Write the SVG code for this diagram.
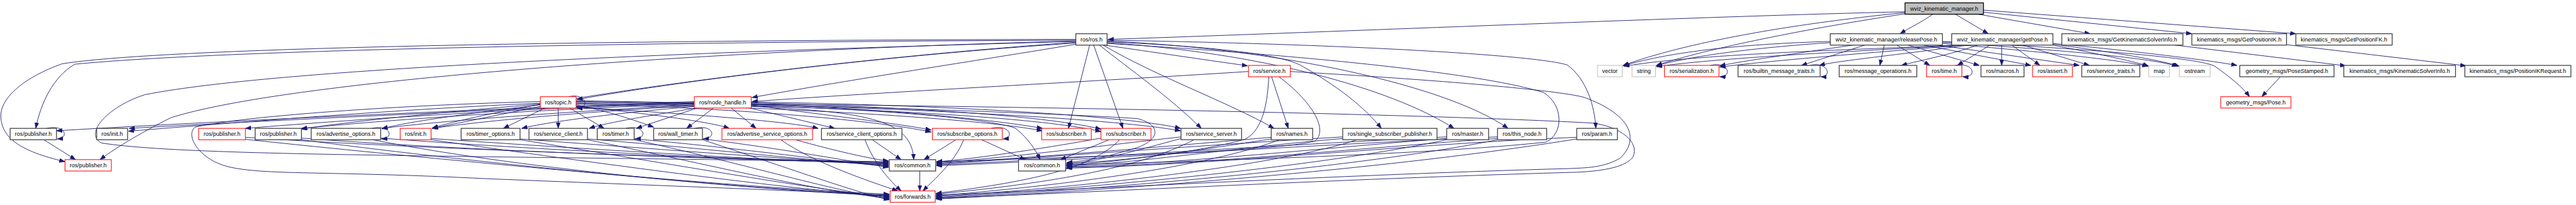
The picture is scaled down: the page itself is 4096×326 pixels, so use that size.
<svg xmlns="http://www.w3.org/2000/svg" width="4096" height="326" viewBox="0 0 4096 326">
<defs>
<style>
.n rect{fill:#fff;stroke:#404040;stroke-width:2}
.r rect{stroke:#ff0000;stroke-width:1.6}
.g rect{stroke:#bfbfbf;stroke-width:1.6}
.root rect{fill:#bfbfbf;stroke:#000}
.n text{font-family:"Liberation Sans",Arial,Helvetica,sans-serif;font-size:14px;text-anchor:middle;fill:#000}
#edges path{fill:none;stroke:#191970;stroke-width:1.4;marker-end:url(#a)}
</style>
<marker id="a" markerUnits="userSpaceOnUse" markerWidth="16" markerHeight="12" refX="14" refY="5" orient="auto"><path d="M0,0L14,5L0,10z" fill="#191970" stroke="#191970" stroke-width="1"/></marker>
</defs>
<rect width="4096" height="326" fill="#fff"/>
<g transform="scale(0.646)">
<g id="edges">
<path d="M4689,29 C4200,40 3300,78 2727,97"/>
<path d="M4689,31 C4400,60 4150,105 3995,161"/>
<path d="M4689,34 C4450,70 4200,120 4077,161"/>
<path d="M4757,35 C4730,55 4700,68 4677,83"/>
<path d="M4813,35 L4894,83"/>
<path d="M4869,35 L5145,83"/>
<path d="M4882,30 L5395,83"/>
<path d="M4882,25 L5651,83"/>
<path d="M2718,111 C2850,130 2950,145 3071,162"/>
<path d="M2682,111 L2630,316"/>
<path d="M2692,111 L2764,316"/>
<path d="M2706,111 C2780,170 2880,240 2957,316"/>
<path d="M2715,111 C2850,190 3020,250 3136,316"/>
<path d="M2725,103 C3000,115 3150,135 3200,160 C3290,210 3360,265 3400,316"/>
<path d="M2725,105 C3100,130 3420,215 3579,316"/>
<path d="M2725,101 C3150,120 3560,210 3712,316"/>
<path d="M2725,99 C3300,108 3780,135 3858,160 C3905,195 3925,260 3928,316"/>
<path d="M2725,107 C3200,135 3650,180 3800,228 C3850,260 3848,330 3805,350 C3500,382 2900,398 2625,406"/>
<path d="M2648,109 C2400,150 2100,195 1851,240"/>
<path d="M2648,106 C2200,135 1700,195 1420,245"/>
<path d="M2648,104 C2000,150 1300,245 1064,315"/>
<path d="M2648,99 C1800,102 600,118 184,158 C130,190 100,255 88,316"/>
<path d="M2648,97 C1800,98 450,110 153,157 C60,190 2,240 2,285 C3,340 50,372 160,398"/>
<path d="M2648,102 C1800,125 700,165 357,233 C265,262 205,330 250,352 C400,376 800,380 1200,386 C1700,392 2000,396 2187,400"/>
<path d="M2648,101 C1700,125 700,200 420,290 C360,320 290,360 246,393"/>
<path d="M3130,189 L3171,316"/>
<path d="M3073,176 C2700,200 2200,225 1851,250"/>
<path d="M3123,189 C3120,250 3110,320 3064,343 C2950,375 2750,398 2625,402"/>
<path d="M3148,189 C3230,250 3270,320 3237,347 C3150,372 2700,385 2305,398"/>
<path d="M3176,176 C3600,200 3850,225 3900,240 C4010,280 4040,340 3987,390 C3950,410 3920,413 3860,415 C3300,430 2600,470 2304,480"/>
<path d="M1849,256 C2500,262 3500,280 3920,303 C3990,312 4035,350 4020,385 C4005,410 3950,421 3880,424 C3300,440 2600,478 2304,488"/>
<path d="M1400,238 C1445,228 1452,268 1420,266"/>
<path d="M1341,266 L1239,316"/>
<path d="M1374,266 L1374,316"/>
<path d="M1402,266 L1487,316"/>
<path d="M1418,258 C1500,275 1560,295 1609,313"/>
<path d="M1330,262 L1064,316"/>
<path d="M1330,258 C1150,280 1000,300 940,317"/>
<path d="M1330,254 C1000,268 600,300 316,323"/>
<path d="M1330,256 C1100,275 850,300 742,318"/>
<path d="M1418,262 C1600,280 1750,300 1795,316"/>
<path d="M1418,264 C1700,280 1950,300 2014,316"/>
<path d="M1418,256 C1800,265 2150,295 2292,325"/>
<path d="M1418,254 C1900,262 2400,290 2566,322"/>
<path d="M1418,252 C2000,258 2550,285 2710,324"/>
<path d="M1418,250 C2000,255 2700,285 2906,322"/>
<path d="M1418,248 C1900,255 2600,278 2800,292 C2852,305 2862,340 2800,363 C2730,385 2680,396 2626,400"/>
<path d="M1330,250 C1000,258 600,285 480,313 C455,333 490,392 560,410 C650,432 800,420 1200,440 C1700,460 2000,470 2189,482"/>
<path d="M1709,250 C1200,268 500,300 139,322"/>
<path d="M1709,252 C1200,270 600,300 318,316"/>
<path d="M1709,254 C1300,266 900,292 604,316"/>
<path d="M1709,256 C1300,270 950,296 742,316"/>
<path d="M1709,258 C1400,275 1100,296 940,316"/>
<path d="M1709,260 C1450,275 1200,296 1064,316"/>
<path d="M1709,262 C1500,280 1350,300 1284,316"/>
<path d="M1712,266 C1600,285 1500,300 1450,316"/>
<path d="M1716,266 L1566,316"/>
<path d="M1756,266 L1690,316"/>
<path d="M1800,266 L1861,316"/>
<path d="M1846,266 L2055,316"/>
<path d="M1849,258 C2000,280 2200,302 2292,320"/>
<path d="M1849,255 C2200,270 2450,295 2566,316"/>
<path d="M1849,253 C2300,265 2600,290 2710,318"/>
<path d="M1849,251 C2400,260 2800,290 2906,316"/>
<path d="M1849,262 C2150,275 2245,300 2249,393"/>
<path d="M1849,260 C2200,270 2450,295 2500,316 C2530,340 2550,370 2560,393"/>
<path d="M115,316 C160,305 172,340 141,342"/>
<path d="M108,344 L186,393"/>
<path d="M604,338 C1000,365 1800,393 2187,398"/>
<path d="M604,343 C1000,385 1800,462 2189,478"/>
<path d="M742,340 C1100,368 1800,395 2187,400"/>
<path d="M742,344 C1100,392 1800,466 2189,480"/>
<path d="M915,316 C960,305 972,340 939,342"/>
<path d="M937,340 C1300,368 1900,397 2187,402"/>
<path d="M917,344 C1300,420 1900,470 2189,482"/>
<path d="M1061,341 C1400,364 1900,396 2187,404"/>
<path d="M1061,344 C1400,392 1900,462 2189,484"/>
<path d="M1280,342 C1600,366 2000,396 2187,406"/>
<path d="M1280,344 C1600,395 2000,466 2189,486"/>
<path d="M1446,342 C1700,362 2000,396 2187,408"/>
<path d="M1446,344 C1700,395 2000,470 2189,488"/>
<path d="M1540,316 C1585,305 1597,340 1563,342"/>
<path d="M1561,342 C1800,362 2050,397 2187,410"/>
<path d="M1561,344 C1800,395 2050,470 2189,490"/>
<path d="M1710,316 C1755,305 1767,340 1731,342"/>
<path d="M1729,342 C1900,362 2100,398 2187,412"/>
<path d="M1729,344 C1900,400 2100,472 2189,492"/>
<path d="M1958,344 C2050,370 2150,393 2187,396"/>
<path d="M1922,344 C2000,400 2150,450 2210,470"/>
<path d="M2147,344 L2218,393"/>
<path d="M2129,344 C2150,400 2190,445 2218,470"/>
<path d="M2440,316 C2487,305 2497,340 2469,342"/>
<path d="M2353,344 L2274,393"/>
<path d="M2372,344 C2350,400 2300,440 2272,470"/>
<path d="M2416,344 L2524,393"/>
<path d="M2710,340 C2600,360 2400,392 2305,398"/>
<path d="M2730,344 L2610,393"/>
<path d="M2756,344 C2700,400 2600,440 2304,476"/>
<path d="M2907,337 C2700,360 2450,392 2305,400"/>
<path d="M2907,341 C2800,370 2700,398 2625,404"/>
<path d="M2939,344 C2850,390 2700,440 2304,478"/>
<path d="M3129,338 C2900,358 2500,392 2305,402"/>
<path d="M3129,342 C2950,370 2750,400 2625,406"/>
<path d="M3150,344 C3000,400 2700,450 2304,482"/>
<path d="M3305,337 C3000,355 2500,392 2305,404"/>
<path d="M3305,341 C3050,362 2800,402 2625,408"/>
<path d="M3340,344 C3200,392 2800,452 2304,484"/>
<path d="M3561,337 C3200,354 2600,393 2305,406"/>
<path d="M3561,341 C3300,360 2900,404 2625,410"/>
<path d="M3561,344 C3300,400 2800,456 2304,486"/>
<path d="M3686,337 C3300,352 2700,393 2305,408"/>
<path d="M3686,341 C3400,360 2950,406 2625,412"/>
<path d="M3686,344 C3400,402 2850,458 2304,488"/>
<path d="M3881,338 C3500,352 3000,406 2625,414"/>
<path d="M3881,342 C3500,404 2900,460 2304,490"/>
<path d="M2264,421 L2264,470"/>
<path d="M4505,102 C4300,108 4120,125 3995,162"/>
<path d="M4505,105 C4350,115 4170,135 4077,162"/>
<path d="M4560,111 C4420,132 4290,150 4233,162"/>
<path d="M4590,111 L4434,161"/>
<path d="M4638,111 L4627,161"/>
<path d="M4669,111 L4750,161"/>
<path d="M4696,111 L4872,161"/>
<path d="M4734,111 L4999,161"/>
<path d="M4770,111 L5118,161"/>
<path d="M4781,107 C5000,125 5200,145 5287,163"/>
<path d="M4781,104 C5050,122 5280,140 5360,163"/>
<path d="M4781,102 C5100,118 5400,140 5450,162 C5490,190 5520,215 5537,238"/>
<path d="M4815,111 C4600,122 4200,130 3997,163"/>
<path d="M4825,111 C4600,125 4250,140 4077,164"/>
<path d="M4835,111 C4600,130 4350,150 4233,165"/>
<path d="M4845,111 C4650,138 4520,150 4478,161"/>
<path d="M4868,111 C4800,135 4720,150 4680,161"/>
<path d="M4898,111 L4818,161"/>
<path d="M4927,111 L4927,161"/>
<path d="M4952,111 L5021,161"/>
<path d="M4979,111 L5143,161"/>
<path d="M5053,111 C5150,130 5250,150 5289,163"/>
<path d="M5053,109 C5180,125 5320,148 5364,163"/>
<path d="M5053,107 C5250,125 5450,150 5506,161"/>
<path d="M5353,111 L5774,162"/>
<path d="M5628,110 L6070,162"/>
<path d="M5613,189 L5567,238"/>
<path d="M4210,161 C4255,150 4265,190 4233,189"/>
<path d="M4455,161 C4500,150 4510,190 4482,189"/>
<path d="M4812,161 C4860,152 4868,192 4831,189"/>
</g>
<g id="n_root" class="n root"><rect x="4689" y="7" width="193" height="28"/><text x="4785.5" y="26">wviz_kinematic_manager.h</text></g>
<g id="n_ros" class="n"><rect x="2648" y="83" width="77" height="28"/><text x="2686.5" y="102">ros/ros.h</text></g>
<g id="n_release" class="n"><rect x="4505" y="83" width="276" height="28"/><text x="4643" y="102">wviz_kinematic_manager/releasePose.h</text></g>
<g id="n_getpose" class="n"><rect x="4804" y="83" width="249" height="28"/><text x="4928.5" y="102">wviz_kinematic_manager/getPose.h</text></g>
<g id="n_gksi" class="n"><rect x="5075" y="83" width="298" height="28"/><text x="5224" y="102">kinematics_msgs/GetKinematicSolverInfo.h</text></g>
<g id="n_gpik" class="n"><rect x="5395" y="83" width="233" height="28"/><text x="5511.5" y="102">kinematics_msgs/GetPositionIK.h</text></g>
<g id="n_gpfk" class="n"><rect x="5651" y="83" width="237" height="28"/><text x="5769.5" y="102">kinematics_msgs/GetPositionFK.h</text></g>
<g id="n_service" class="n r"><rect x="3073" y="161" width="103" height="28"/><text x="3124.5" y="180">ros/service.h</text></g>
<g id="n_vector" class="n g"><rect x="3932" y="161" width="61" height="28"/><text x="3962.5" y="180">vector</text></g>
<g id="n_string" class="n g"><rect x="4017" y="161" width="58" height="28"/><text x="4046" y="180">string</text></g>
<g id="n_serialization" class="n r"><rect x="4097" y="161" width="134" height="28"/><text x="4164" y="180">ros/serialization.h</text></g>
<g id="n_bmt" class="n"><rect x="4278" y="161" width="202" height="28"/><text x="4379" y="180">ros/builtin_message_traits.h</text></g>
<g id="n_mops" class="n"><rect x="4527" y="161" width="191" height="28"/><text x="4622.5" y="180">ros/message_operations.h</text></g>
<g id="n_time" class="n r"><rect x="4742" y="161" width="87" height="28"/><text x="4785.5" y="180">ros/time.h</text></g>
<g id="n_macros" class="n"><rect x="4876" y="161" width="106" height="28"/><text x="4929" y="180">ros/macros.h</text></g>
<g id="n_assert" class="n r"><rect x="5003" y="161" width="98" height="28"/><text x="5052" y="180">ros/assert.h</text></g>
<g id="n_straits" class="n"><rect x="5124" y="161" width="143" height="28"/><text x="5195.5" y="180">ros/service_traits.h</text></g>
<g id="n_map" class="n g"><rect x="5289" y="161" width="51" height="28"/><text x="5314.5" y="180">map</text></g>
<g id="n_ostream" class="n g"><rect x="5364" y="161" width="76" height="28"/><text x="5402" y="180">ostream</text></g>
<g id="n_posestamped" class="n"><rect x="5513" y="161" width="232" height="28"/><text x="5629" y="180">geometry_msgs/PoseStamped.h</text></g>
<g id="n_ksi" class="n"><rect x="5769" y="161" width="275" height="28"/><text x="5906.5" y="180">kinematics_msgs/KinematicSolverInfo.h</text></g>
<g id="n_pikr" class="n"><rect x="6067" y="161" width="261" height="28"/><text x="6197.5" y="180">kinematics_msgs/PositionIKRequest.h</text></g>
<g id="n_topic" class="n r"><rect x="1330" y="238" width="88" height="28"/><text x="1374" y="257">ros/topic.h</text></g>
<g id="n_nodehandle" class="n r"><rect x="1709" y="238" width="140" height="28"/><text x="1779" y="257">ros/node_handle.h</text></g>
<g id="n_pose" class="n r"><rect x="5466" y="238" width="173" height="28"/><text x="5552.5" y="257">geometry_msgs/Pose.h</text></g>
<g id="n_pub1" class="n"><rect x="25" y="316" width="114" height="28"/><text x="82" y="335">ros/publisher.h</text></g>
<g id="n_init1" class="n"><rect x="238" y="316" width="76" height="28"/><text x="276" y="335">ros/init.h</text></g>
<g id="n_pub2" class="n r"><rect x="489" y="316" width="115" height="28"/><text x="546.5" y="335">ros/publisher.h</text></g>
<g id="n_pub3" class="n"><rect x="628" y="316" width="114" height="28"/><text x="685" y="335">ros/publisher.h</text></g>
<g id="n_advopt" class="n"><rect x="766" y="316" width="171" height="28"/><text x="851.5" y="335">ros/advertise_options.h</text></g>
<g id="n_init2" class="n r"><rect x="985" y="316" width="76" height="28"/><text x="1023" y="335">ros/init.h</text></g>
<g id="n_timeropt" class="n"><rect x="1135" y="316" width="145" height="28"/><text x="1207.5" y="335">ros/timer_options.h</text></g>
<g id="n_srvclient" class="n"><rect x="1302" y="316" width="144" height="28"/><text x="1374" y="335">ros/service_client.h</text></g>
<g id="n_timer" class="n"><rect x="1470" y="316" width="91" height="28"/><text x="1515.5" y="335">ros/timer.h</text></g>
<g id="n_walltimer" class="n"><rect x="1609" y="316" width="120" height="28"/><text x="1669" y="335">ros/wall_timer.h</text></g>
<g id="n_advsrvopt" class="n r"><rect x="1777" y="316" width="223" height="28"/><text x="1888.5" y="335">ros/advertise_service_options.h</text></g>
<g id="n_srvcliopt" class="n"><rect x="2022" y="316" width="198" height="28"/><text x="2121" y="335">ros/service_client_options.h</text></g>
<g id="n_subopt" class="n r"><rect x="2295" y="316" width="172" height="28"/><text x="2381" y="335">ros/subscribe_options.h</text></g>
<g id="n_sub1" class="n r"><rect x="2564" y="316" width="122" height="28"/><text x="2625" y="335">ros/subscriber.h</text></g>
<g id="n_sub2" class="n r"><rect x="2710" y="316" width="123" height="28"/><text x="2771.5" y="335">ros/subscriber.h</text></g>
<g id="n_srvserver" class="n"><rect x="2907" y="316" width="149" height="28"/><text x="2981.5" y="335">ros/service_server.h</text></g>
<g id="n_names" class="n"><rect x="3129" y="316" width="102" height="28"/><text x="3180" y="335">ros/names.h</text></g>
<g id="n_ssp" class="n"><rect x="3305" y="316" width="232" height="28"/><text x="3421" y="335">ros/single_subscriber_publisher.h</text></g>
<g id="n_master" class="n"><rect x="3561" y="316" width="103" height="28"/><text x="3612.5" y="335">ros/master.h</text></g>
<g id="n_thisnode" class="n"><rect x="3686" y="316" width="121" height="28"/><text x="3746.5" y="335">ros/this_node.h</text></g>
<g id="n_param" class="n"><rect x="3881" y="316" width="100" height="28"/><text x="3931" y="335">ros/param.h</text></g>
<g id="n_pubr" class="n r"><rect x="160" y="393" width="114" height="28"/><text x="217" y="412">ros/publisher.h</text></g>
<g id="n_common1" class="n"><rect x="2189" y="393" width="114" height="28"/><text x="2246" y="412">ros/common.h</text></g>
<g id="n_common2" class="n"><rect x="2507" y="393" width="116" height="28"/><text x="2565" y="412">ros/common.h</text></g>
<g id="n_forwards" class="n r"><rect x="2191" y="470" width="111" height="28"/><text x="2246.5" y="489">ros/forwards.h</text></g>
</g>
</svg>
